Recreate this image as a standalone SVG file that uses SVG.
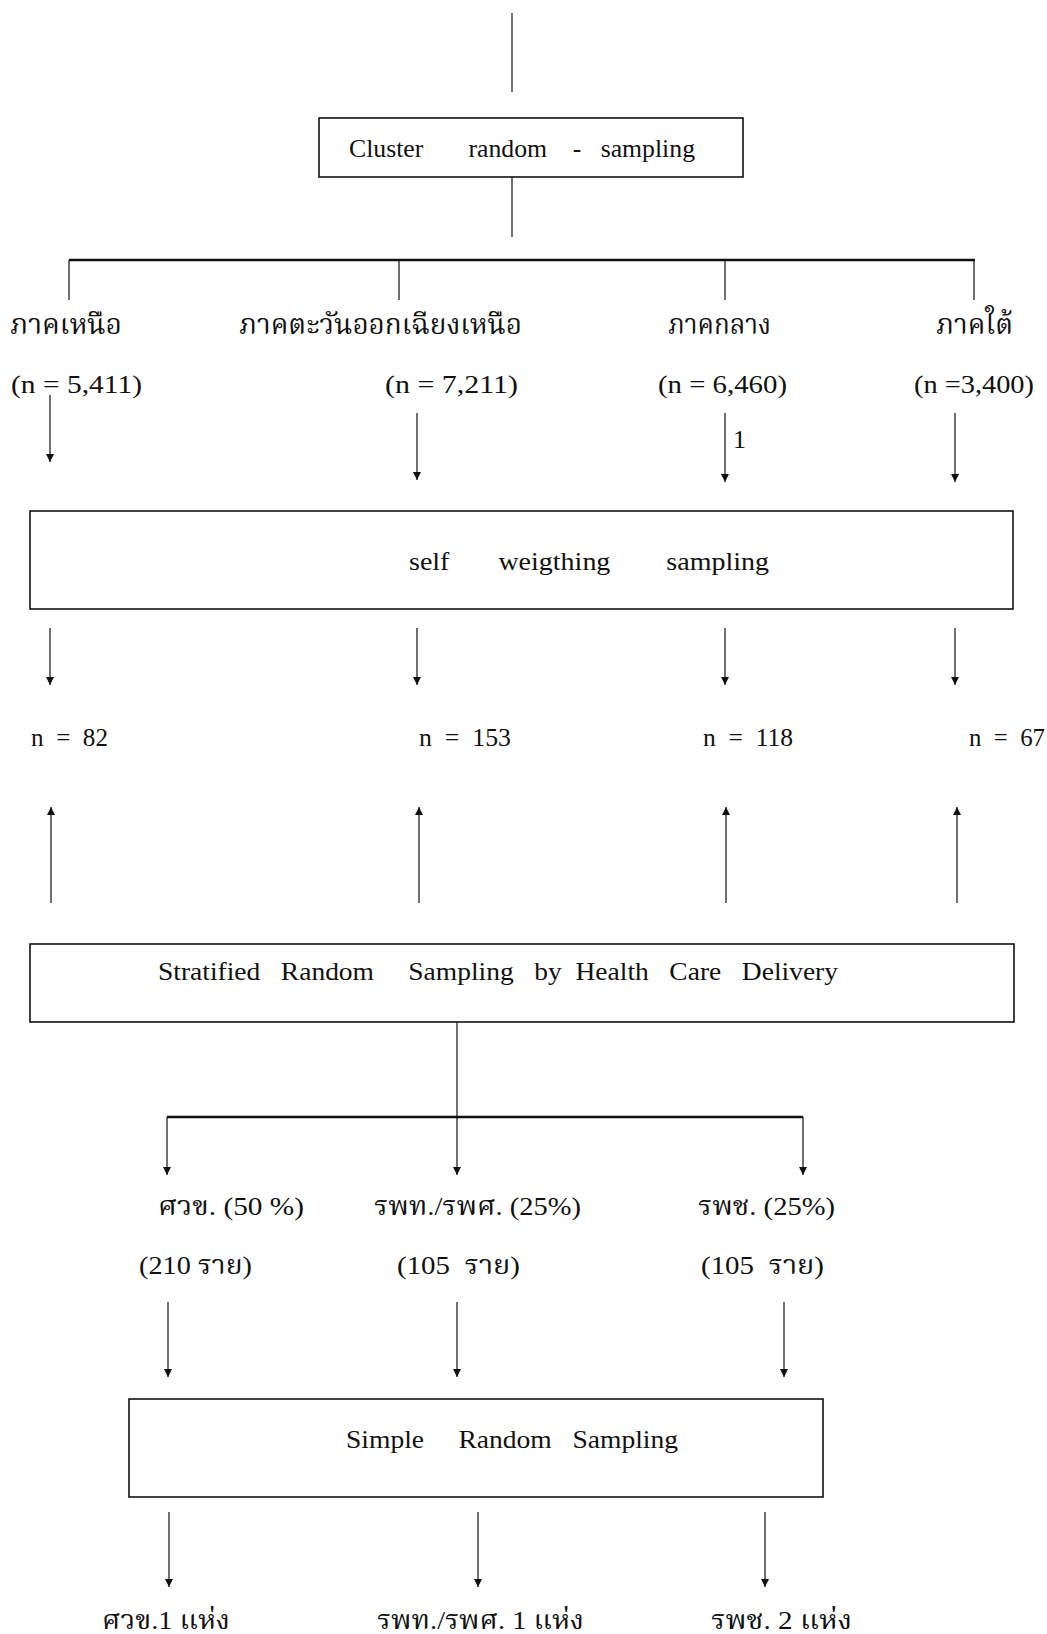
<svg xmlns="http://www.w3.org/2000/svg" width="1047" height="1634" viewBox="0 0 1047 1634" xml:space="preserve">
<style>
.bg{fill:#fff}
.box{fill:#fff;stroke:#111;stroke-width:1.6}
.ln{fill:none;stroke:#111;stroke-width:1.2}
.bar{fill:none;stroke:#111;stroke-width:2.4}
.arr{fill:none;stroke:#111;stroke-width:1.2;marker-end:url(#ah)}
.t{font-family:"Liberation Serif","Noto Serif Thai","Noto Sans Thai","Noto Sans CJK SC",serif;font-size:26px;fill:#111;white-space:pre}
.th{font-family:"Noto Serif Thai","Noto Sans Thai","Liberation Serif",serif;font-size:28px;fill:#111}
</style>
<defs>
<marker id="ah" viewBox="0 0 8 10" refX="8" refY="5" markerWidth="8" markerHeight="10" markerUnits="userSpaceOnUse" orient="auto">
<path d="M0,1 L8,5 L0,9 z" fill="#111"/>
</marker>
</defs>
<rect class="bg" x="0" y="0" width="1047" height="1634"/>
<g id="connectors">
<path class="ln" d="M512,13 V92"/>
<path class="ln" d="M512,177 V237"/>
<path class="bar" d="M69,260 H975"/>
<path class="ln" d="M69,260 V300 M399,260 V300 M725,260 V300 M974,260 V300"/>
<path class="arr" d="M50,395 V462"/>
<path class="arr" d="M417,413 V480"/>
<path class="arr" d="M725,413 V482"/>
<path class="arr" d="M955,413 V482"/>
<path class="arr" d="M50,628 V685"/>
<path class="arr" d="M417,628 V685"/>
<path class="arr" d="M725,628 V685"/>
<path class="arr" d="M955,628 V685"/>
<path class="arr" d="M51,903 V807"/>
<path class="arr" d="M419,903 V807"/>
<path class="arr" d="M726,903 V807"/>
<path class="arr" d="M957,903 V807"/>
<path class="arr" d="M457,1022 V1175"/>
<path class="bar" d="M167,1117 H803"/>
<path class="arr" d="M167,1117 V1175"/>
<path class="arr" d="M803,1117 V1175"/>
<path class="arr" d="M168,1302 V1377"/>
<path class="arr" d="M457,1302 V1377"/>
<path class="arr" d="M784,1302 V1377"/>
<path class="arr" d="M169,1512 V1587"/>
<path class="arr" d="M478,1512 V1587"/>
<path class="arr" d="M765,1512 V1587"/>
<text class="t" x="733" y="448" font-size="18">1</text>
</g>
<g id="cluster">
<rect class="box" x="319" y="118" width="424" height="59"/>
<text class="t" x="349" y="157" font-size="25" textLength="346" lengthAdjust="spacingAndGlyphs">Cluster       random    -   sampling</text>
</g>
<g id="north">
<text class="th" x="10" y="334" textLength="112" lengthAdjust="spacingAndGlyphs">ภาคเหนือ</text>
<text class="t" x="11" y="393" textLength="131" lengthAdjust="spacingAndGlyphs">(n = 5,411)</text>
</g>
<g id="northeast">
<text class="th" x="239" y="334" textLength="283" lengthAdjust="spacingAndGlyphs">ภาคตะวันออกเฉียงเหนือ</text>
<text class="t" x="385" y="393" textLength="133" lengthAdjust="spacingAndGlyphs">(n = 7,211)</text>
</g>
<g id="central">
<text class="th" x="668" y="334" textLength="103" lengthAdjust="spacingAndGlyphs">ภาคกลาง</text>
<text class="t" x="658" y="393" textLength="129" lengthAdjust="spacingAndGlyphs">(n = 6,460)</text>
</g>
<g id="south">
<text class="th" x="936" y="334" textLength="77" lengthAdjust="spacingAndGlyphs">ภาคใต้</text>
<text class="t" x="914" y="393" textLength="120" lengthAdjust="spacingAndGlyphs">(n =3,400)</text>
</g>
<g id="selfweighting">
<rect class="box" x="30" y="511" width="983" height="98"/>
<text class="t" x="409" y="570" font-size="27" textLength="360" lengthAdjust="spacingAndGlyphs">self       weigthing        sampling</text>
</g>
<g id="n82"><text class="t" x="31" y="746" textLength="77" lengthAdjust="spacingAndGlyphs">n  =  82</text></g>
<g id="n153"><text class="t" x="419" y="746" textLength="92" lengthAdjust="spacingAndGlyphs">n  =  153</text></g>
<g id="n118"><text class="t" x="703" y="746" textLength="90" lengthAdjust="spacingAndGlyphs">n  =  118</text></g>
<g id="n67"><text class="t" x="969" y="746" textLength="76" lengthAdjust="spacingAndGlyphs">n  =  67</text></g>
<g id="stratified">
<rect class="box" x="30" y="944" width="984" height="78"/>
<text class="t" x="158" y="980" font-size="27" textLength="680" lengthAdjust="spacingAndGlyphs">Stratified   Random     Sampling   by  Health   Care   Delivery</text>
</g>
<g id="hc1">
<text class="t" x="158" y="1215" textLength="146" lengthAdjust="spacingAndGlyphs">ศวข. (50 %)</text>
<text class="t" x="139" y="1274" textLength="113" lengthAdjust="spacingAndGlyphs">(210 ราย)</text>
</g>
<g id="hc2">
<text class="t" x="374" y="1215" textLength="207" lengthAdjust="spacingAndGlyphs">รพท./รพศ. (25%)</text>
<text class="t" x="397" y="1274" textLength="123" lengthAdjust="spacingAndGlyphs">(105  ราย)</text>
</g>
<g id="hc3">
<text class="t" x="698" y="1215" textLength="137" lengthAdjust="spacingAndGlyphs">รพช. (25%)</text>
<text class="t" x="701" y="1274" textLength="123" lengthAdjust="spacingAndGlyphs">(105  ราย)</text>
</g>
<g id="simple">
<rect class="box" x="129" y="1399" width="694" height="98"/>
<text class="t" x="346" y="1448" font-size="27" textLength="332" lengthAdjust="spacingAndGlyphs">Simple     Random   Sampling</text>
</g>
<g id="out1"><text class="t" x="102" y="1629" textLength="128" lengthAdjust="spacingAndGlyphs">ศวข.1 แห่ง</text></g>
<g id="out2"><text class="t" x="377" y="1629" textLength="207" lengthAdjust="spacingAndGlyphs">รพท./รพศ. 1 แห่ง</text></g>
<g id="out3"><text class="t" x="711" y="1629" textLength="141" lengthAdjust="spacingAndGlyphs">รพช. 2 แห่ง</text></g>
</svg>
